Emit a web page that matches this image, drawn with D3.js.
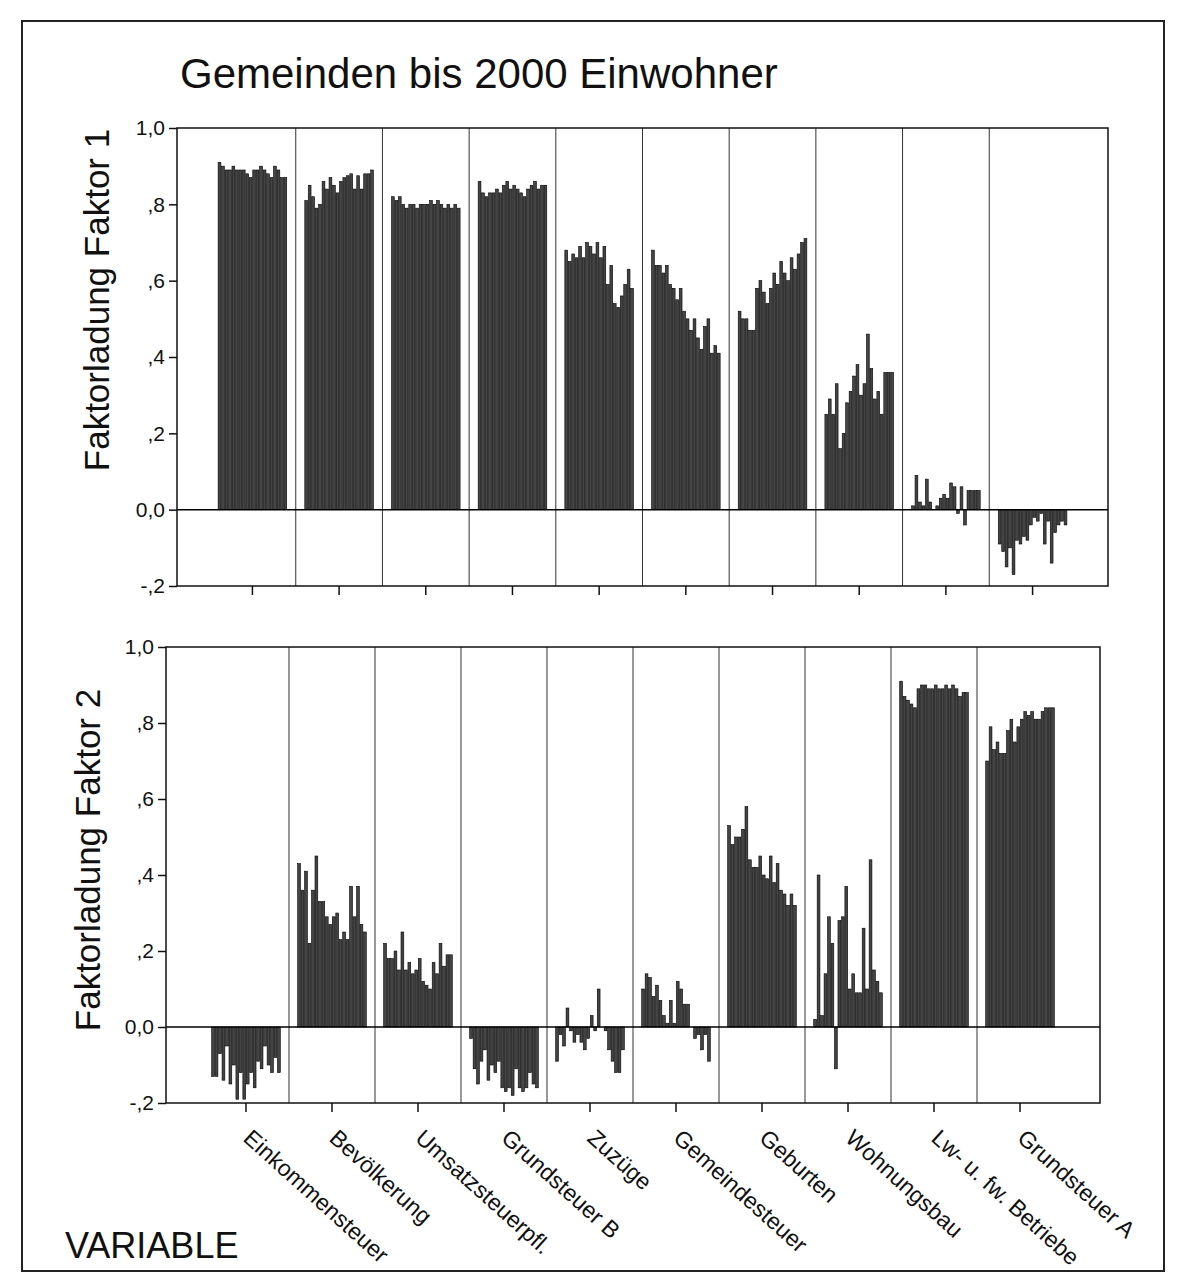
<!DOCTYPE html>
<html><head><meta charset="utf-8">
<script src="https://cdn.jsdelivr.net/npm/d3@7"></script>
<style>body{margin:0;background:#fff}svg{display:block}text{font-family:"Liberation Sans",Arial,sans-serif;fill:#111}</style>
</head><body><svg id="c" width="1181" height="1287"></svg>
<script>
const categories = ["Einkommensteuer","Bevölkerung","Umsatzsteuerpfl.","Grundsteuer B","Zuzüge","Gemeindesteuer","Geburten","Wohnungsbau","Lw- u. fw. Betriebe","Grundsteuer A"];
const yTicks = [-0.2,0,0.2,0.4,0.6,0.8,1.0];
const yTickLabels = ["-,2","0,0",",2",",4",",6",",8","1,0"];
const faktor1 = [
 [0.91,0.90,0.89,0.89,0.90,0.89,0.89,0.89,0.88,0.87,0.89,0.89,0.90,0.89,0.88,0.87,0.90,0.89,0.87,0.87],
 [0.81,0.85,0.82,0.79,0.80,0.86,0.84,0.87,0.85,0.83,0.86,0.87,0.875,0.88,0.84,0.875,0.84,0.88,0.88,0.89],
 [0.82,0.81,0.82,0.80,0.79,0.80,0.80,0.79,0.80,0.80,0.80,0.81,0.80,0.81,0.80,0.79,0.80,0.79,0.80,0.79],
 [0.86,0.83,0.82,0.83,0.83,0.84,0.83,0.85,0.86,0.84,0.85,0.84,0.83,0.82,0.84,0.85,0.86,0.84,0.85,0.85],
 [0.68,0.65,0.67,0.66,0.69,0.66,0.70,0.69,0.67,0.70,0.66,0.69,0.59,0.64,0.54,0.53,0.56,0.59,0.63,0.58],
 [0.68,0.64,0.64,0.62,0.64,0.59,0.58,0.55,0.58,0.52,0.50,0.47,0.50,0.45,0.42,0.48,0.50,0.41,0.43,0.41],
 [0.52,0.50,0.50,0.47,0.47,0.58,0.60,0.57,0.54,0.58,0.62,0.59,0.65,0.62,0.60,0.66,0.63,0.67,0.70,0.71],
 [0.25,0.29,0.25,0.33,0.16,0.20,0.28,0.31,0.35,0.38,0.30,0.33,0.46,0.37,0.29,0.31,0.25,0.36,0.36,0.36],
 [0.01,0.09,0.02,0.01,0.08,0.02,0.00,0.01,0.03,0.04,0.03,0.07,0.06,-0.01,0.06,-0.04,0.05,0.05,0.05,0.05],
 [-0.09,-0.11,-0.15,-0.10,-0.17,-0.08,-0.09,-0.07,-0.08,-0.04,-0.02,-0.03,-0.01,-0.09,-0.03,-0.14,-0.06,-0.04,-0.03,-0.04]
];
const faktor2 = [
 [-0.13,-0.13,-0.07,-0.14,-0.05,-0.15,-0.10,-0.19,-0.12,-0.19,-0.15,-0.12,-0.16,-0.09,-0.11,-0.05,-0.10,-0.12,-0.08,-0.12],
 [0.43,0.36,0.41,0.22,0.36,0.45,0.33,0.33,0.29,0.27,0.29,0.30,0.23,0.25,0.23,0.37,0.29,0.37,0.27,0.25],
 [0.22,0.18,0.18,0.20,0.15,0.25,0.15,0.17,0.14,0.15,0.18,0.12,0.11,0.10,0.17,0.14,0.22,0.16,0.19,0.19],
 [-0.03,-0.11,-0.15,-0.09,-0.06,-0.14,-0.10,-0.12,-0.09,-0.16,-0.17,-0.16,-0.18,-0.11,-0.16,-0.17,-0.16,-0.12,-0.15,-0.16],
 [-0.09,-0.02,-0.05,0.05,-0.01,-0.04,-0.02,-0.04,-0.06,-0.03,0.03,-0.01,0.10,0.00,-0.01,-0.06,-0.09,-0.12,-0.12,-0.06],
 [0.10,0.14,0.13,0.08,0.11,0.07,0.03,0.01,0.07,0.01,0.12,0.10,0.06,0.06,0.00,-0.03,-0.02,-0.06,-0.02,-0.09],
 [0.53,0.48,0.50,0.50,0.52,0.58,0.44,0.42,0.42,0.45,0.40,0.39,0.45,0.38,0.43,0.36,0.35,0.32,0.35,0.32],
 [0.02,0.40,0.03,0.14,0.29,0.22,-0.11,0.28,0.29,0.37,0.10,0.14,0.09,0.09,0.26,0.10,0.44,0.15,0.12,0.09],
 [0.91,0.87,0.86,0.85,0.84,0.89,0.90,0.90,0.89,0.89,0.90,0.89,0.89,0.90,0.89,0.90,0.89,0.87,0.88,0.88],
 [0.70,0.79,0.73,0.75,0.72,0.72,0.78,0.81,0.75,0.79,0.81,0.83,0.82,0.83,0.81,0.81,0.83,0.84,0.84,0.84]
];
const titleText = "Gemeinden bis 2000 Einwohner";
const yLabels = ["Faktorladung Faktor 1","Faktorladung Faktor 2"];

const svg = d3.select("#c");
svg.append("rect").attr("x",22).attr("y",21).attr("width",1142).attr("height",1250)
  .attr("fill","none").attr("stroke","#222").attr("stroke-width",2);
svg.append("text").attr("x",180).attr("y",88).attr("font-size",42).text(titleText);

const panels = [
  {data:faktor1,label:yLabels[0],left:177,right:1108,top:128,bottom:586,labX:97,labY:300,padO:0.37,showCats:false},
  {data:faktor2,label:yLabels[1],left:166,right:1100,top:647,bottom:1103,labX:88,labY:860,padO:0.43,showCats:true}
];
const nBars = faktor1[0].length;
panels.forEach(p=>{
  const g = svg.append("g");
  const x = d3.scaleBand().domain(categories).range([p.left,p.right]).paddingInner(0).paddingOuter(p.padO);
  const y = d3.scaleLinear().domain([-0.2,1.0]).range([p.bottom,p.top]);
  const inner = d3.scaleBand().domain(d3.range(nBars)).range([-35,35]).padding(0.2);
  categories.slice(1).forEach(c=>{
    g.append("line").attr("x1",x(c)).attr("x2",x(c)).attr("y1",p.top).attr("y2",p.bottom)
     .attr("stroke","#333").attr("stroke-width",1);
  });
  categories.forEach((c,ci)=>{
    const cx = x(c)+x.bandwidth()/2;
    g.selectAll(null).data(p.data[ci]).enter().append("rect")
      .attr("x",(d,i)=>cx+inner(i))
      .attr("width",inner.bandwidth())
      .attr("y",d=>y(Math.max(0,d)))
      .attr("height",d=>Math.abs(y(d)-y(0)))
      .attr("fill","#444").attr("stroke","#000").attr("stroke-width",0.6);
  });
  g.append("line").attr("x1",p.left).attr("x2",p.right).attr("y1",y(0)).attr("y2",y(0))
    .attr("stroke","#000").attr("stroke-width",1.5);
  g.append("rect").attr("x",p.left).attr("y",p.top).attr("width",p.right-p.left).attr("height",p.bottom-p.top)
    .attr("fill","none").attr("stroke","#111").attr("stroke-width",1.5);
  const ya = d3.axisLeft(y).tickValues(yTicks).tickSize(8).tickPadding(4)
    .tickFormat((d,i)=>yTickLabels[i]);
  const yg = g.append("g").attr("transform",`translate(${p.left},0)`).call(ya);
  yg.select(".domain").remove();
  yg.selectAll("text").attr("font-size",21).style("font-family",'"Liberation Sans",Arial,sans-serif').attr("fill","#111");
  yg.selectAll("line").attr("stroke","#111").attr("stroke-width",1.5);
  const xa = d3.axisBottom(x).tickSize(9).tickFormat("");
  const xg = g.append("g").attr("transform",`translate(0,${p.bottom})`).call(xa);
  xg.select(".domain").remove();
  xg.selectAll("line").attr("stroke","#111").attr("stroke-width",1.5);
  g.append("text").attr("transform",`translate(${p.labX+12},${p.labY}) rotate(-90)`)
    .attr("text-anchor","middle").attr("font-size",35).text(p.label);
  if(p.showCats){
    categories.forEach(c=>{
      const cx = x(c)+x.bandwidth()/2;
      g.append("text").attr("transform",`translate(${cx-4},${p.bottom+37}) rotate(42)`)
        .attr("font-size",23).text(c);
    });
  }
});
svg.append("text").attr("x",65).attr("y",1258).attr("font-size",36).text("VARIABLE");
</script></body></html>
